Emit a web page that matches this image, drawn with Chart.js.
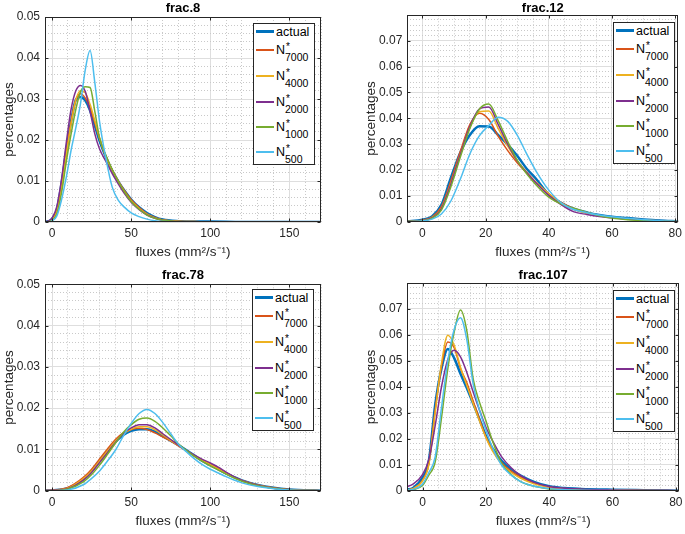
<!DOCTYPE html>
<html><head><meta charset="utf-8">
<script src="https://cdn.jsdelivr.net/npm/chart.js@4/dist/chart.umd.min.js"></script>
<style>
html,body{margin:0;padding:0;background:#fff;}
#wrap{position:relative;width:685px;height:534px;overflow:hidden;background:#fff;}
canvas.pc{position:absolute;}
.leg{position:absolute;box-sizing:border-box;width:62px;height:142px;border:1px solid #262626;background:#fff;font-family:"Liberation Sans",Arial,Helvetica,sans-serif;font-size:12.5px;color:#000;}
.ent{position:absolute;left:0;right:0;height:14px;line-height:14px;white-space:nowrap;}
.sw{position:absolute;left:2px;width:18px;}
.tx{position:absolute;left:22px;top:0;}
.ss{position:relative;display:inline-block;}
.sp{position:absolute;left:1px;top:-1px;font-size:10px;line-height:10px;}
.sb{position:relative;top:7px;font-size:10.5px;}
</style></head><body><div id="wrap"></div>
<script>
// ---------------- data ----------------
const seriesNames = ['actual','N*7000','N*4000','N*2000','N*1000','N*500'];
const legendBase = ['actual','N','N','N','N','N'];
const legendSup = ['','*','*','*','*','*'];
const legendSub = ['','7000','4000','2000','1000','500'];
const panelTitles = ['frac.8','frac.12','frac.78','frac.107'];
const xAxisTitle = 'fluxes (mm²/s⁻¹)';
const yAxisTitle = 'percentages';

const xTicksWide = [0,50,100,150];
const xTicksNarrow = [0,20,40,60,80];
const yTicksLow = [0,0.01,0.02,0.03,0.04,0.05];
const yTicksHigh = [0,0.01,0.02,0.03,0.04,0.05,0.06,0.07];

// frac.8
const frac8X = [-5,-2,0,3,6,9,12,15,18,21,24,27,30,34,38,42,46,50,55,60,65,70,80,90,100,120,170];
const frac8Actual = [0,0.0002,0.0008,0.003,0.0095,0.0175,0.0245,0.0298,0.0305,0.0296,0.0272,0.0235,0.0198,0.0158,0.0125,0.0098,0.0075,0.0055,0.0036,0.0022,0.0012,0.0006,0.0002,0.0001,0.0001,0,0];
const frac8N7000 = [0,0.0001,0.0006,0.0028,0.009,0.017,0.0245,0.0298,0.0313,0.0302,0.0278,0.0242,0.0203,0.016,0.0127,0.0099,0.0075,0.0054,0.0035,0.002,0.0011,0.0005,0.0002,0.0001,0,0,0];
const frac8N4000 = [0,0.0001,0.0005,0.0025,0.0085,0.0165,0.024,0.0298,0.032,0.0315,0.0287,0.0247,0.0205,0.016,0.0126,0.0097,0.0072,0.0051,0.0033,0.0019,0.001,0.0005,0.0002,0.0001,0,0,0];
const frac8N2000 = [0,0.0003,0.001,0.0038,0.0105,0.0195,0.0275,0.032,0.0333,0.0318,0.027,0.0215,0.0178,0.0148,0.0118,0.0092,0.0068,0.0048,0.003,0.0017,0.0009,0.0004,0.0001,0,0,0,0];
const frac8N1000 = [0,0.0001,0.0004,0.002,0.0072,0.0148,0.0215,0.0275,0.0318,0.033,0.0328,0.027,0.0205,0.0163,0.0128,0.0098,0.0072,0.005,0.0031,0.0017,0.0009,0.0004,0.0001,0,0,0,0];
const frac8N500 = [0,0,0.0003,0.0015,0.0055,0.011,0.0175,0.023,0.029,0.0372,0.0418,0.034,0.0245,0.0155,0.0085,0.0052,0.0035,0.0022,0.0013,0.0007,0.0003,0.0001,0,0,0,0,0];

// frac.12
const frac12X = [-5,0,3,6,9,12,15,18,21,24,27,30,33,36,40,44,48,52,56,60,65,70,75,81];
const frac12Actual = [0.0001,0.0008,0.002,0.0065,0.017,0.0268,0.0335,0.0369,0.0368,0.0335,0.0298,0.0255,0.0205,0.0165,0.0105,0.0072,0.0049,0.0036,0.0026,0.0019,0.0014,0.0009,0.0005,0.0002];
const frac12N7000 = [0.0001,0.0006,0.0018,0.0058,0.0158,0.0272,0.0375,0.0419,0.0395,0.033,0.0275,0.0228,0.0188,0.015,0.0108,0.0074,0.005,0.0035,0.0024,0.0017,0.0011,0.0007,0.0004,0.0001];
const frac12N4000 = [0.0001,0.0005,0.0016,0.0052,0.0148,0.026,0.0365,0.0425,0.0428,0.036,0.0292,0.0235,0.0192,0.0152,0.0108,0.0072,0.0048,0.0033,0.0023,0.0016,0.001,0.0006,0.0003,0.0001];
const frac12N2000 = [0.0001,0.0005,0.0015,0.005,0.0145,0.026,0.0368,0.0435,0.0443,0.0375,0.03,0.0235,0.019,0.015,0.0102,0.0065,0.0038,0.0028,0.002,0.0015,0.001,0.0006,0.0003,0.0001];
const frac12N1000 = [0.0001,0.0004,0.0013,0.0045,0.0135,0.025,0.036,0.0435,0.0455,0.039,0.031,0.0238,0.0185,0.0142,0.0095,0.0068,0.0052,0.0037,0.0023,0.0014,0.0008,0.0005,0.0003,0.0001];
const frac12N500 = [0,0.0003,0.001,0.003,0.008,0.0165,0.0262,0.0332,0.0372,0.0404,0.0388,0.0335,0.0262,0.0195,0.0122,0.0072,0.0047,0.0035,0.0026,0.0019,0.0013,0.0008,0.0004,0.0002];

// frac.78
const frac78X = [-5,0,10,20,25,30,35,40,45,50,55,60,65,70,75,80,85,90,95,100,105,110,115,120,130,140,150,170];
const frac78Actual = [0,0.0001,0.0006,0.0028,0.0048,0.0072,0.0096,0.0118,0.0135,0.0145,0.0149,0.0149,0.0143,0.0132,0.0121,0.011,0.0098,0.0085,0.0072,0.0062,0.0052,0.0042,0.0033,0.0025,0.0014,0.0007,0.0003,0];
const frac78N7000 = [0,0.0001,0.0008,0.0033,0.0052,0.0077,0.0101,0.0124,0.014,0.0148,0.0151,0.0148,0.014,0.013,0.012,0.0108,0.0096,0.0084,0.0073,0.0064,0.0054,0.0043,0.0033,0.0025,0.0014,0.0007,0.0003,0];
const frac78N4000 = [0,0.0001,0.0006,0.003,0.0048,0.0072,0.0096,0.012,0.0138,0.0149,0.0155,0.0155,0.0148,0.0135,0.0122,0.0109,0.0097,0.0085,0.0074,0.0064,0.0053,0.0042,0.0032,0.0024,0.0013,0.0006,0.0002,0];
const frac78N2000 = [0,0.0001,0.0005,0.0026,0.0044,0.0068,0.0092,0.0117,0.0138,0.0152,0.016,0.016,0.0152,0.0138,0.0124,0.011,0.0097,0.0086,0.0076,0.0067,0.0057,0.0045,0.0034,0.0025,0.0013,0.0006,0.0002,0];
const frac78N1000 = [0,0,0.0004,0.0022,0.0039,0.0062,0.0088,0.0115,0.0141,0.016,0.0173,0.0176,0.0168,0.0152,0.0133,0.0113,0.0097,0.0083,0.0071,0.006,0.005,0.004,0.0031,0.0023,0.0012,0.0006,0.0002,0];
const frac78N500 = [0,0,0.0002,0.0015,0.003,0.0048,0.0072,0.0098,0.0132,0.0163,0.0187,0.0197,0.0187,0.0165,0.0138,0.0112,0.0094,0.0077,0.0063,0.0052,0.0043,0.0034,0.0026,0.0019,0.001,0.0005,0.0002,0];

// frac.107
const frac107X = [-5,-3,0,2,4,6,8,10,12,14,16,18,20,22,25,28,31,35,40,45,50,60,70,81];
const frac107Actual = [0.0004,0.001,0.005,0.0115,0.033,0.047,0.0545,0.051,0.045,0.0395,0.0335,0.0275,0.0212,0.0165,0.0115,0.0082,0.0058,0.0035,0.0017,0.001,0.0007,0.0004,0.0002,0];
const frac107N7000 = [0.0003,0.0008,0.004,0.0105,0.031,0.0478,0.0572,0.055,0.047,0.0415,0.0345,0.0275,0.0208,0.016,0.0108,0.0075,0.0052,0.003,0.0014,0.0008,0.0005,0.0003,0.0001,0];
const frac107N4000 = [0.0003,0.0008,0.0038,0.01,0.03,0.049,0.0598,0.056,0.0475,0.0405,0.0335,0.0268,0.0205,0.0155,0.0102,0.007,0.0048,0.0028,0.0013,0.0007,0.0004,0.0002,0.0001,0];
const frac107N2000 = [0.0015,0.0025,0.0062,0.012,0.025,0.04,0.0505,0.054,0.0515,0.0455,0.038,0.031,0.0245,0.0195,0.013,0.0088,0.0058,0.0033,0.0016,0.0009,0.0006,0.0003,0.0001,0];
const frac107N1000 = [0.0001,0.0004,0.002,0.006,0.011,0.028,0.047,0.061,0.0695,0.0615,0.043,0.034,0.027,0.0195,0.0105,0.0062,0.0035,0.0018,0.0007,0.0003,0.0001,0,0,0];
const frac107N500 = [0.0002,0.0005,0.0025,0.007,0.013,0.032,0.05,0.062,0.0665,0.058,0.041,0.031,0.0235,0.0168,0.0098,0.006,0.0035,0.0018,0.0008,0.0004,0.0002,0.0001,0,0];

// ---------------- style / layout ----------------
const FONT = '"Liberation Sans", Arial, Helvetica, sans-serif';
const colors = ['#0072BD','#D95319','#EDB120','#7E2F8E','#77AC30','#4DBEEE'];
const MAJOR_GRID = '#dedede', MINOR_GRID = '#c9c9c9', AXIS_COLOR = '#262626';
const LEG_W = 62, LEG_ROWS = [7.5, 26, 52, 77.5, 102.5, 127.5];

const panels = [
  {title:panelTitles[0], xs:frac8X, series:[frac8Actual,frac8N7000,frac8N4000,frac8N2000,frac8N1000,frac8N500],
   xMajor:xTicksWide, yMajor:yTicksLow, xMin:-4.5, xMax:170, yMax:0.05, xMinor:10, yMinor:0.002,
   box:{left:0,top:0,w:342,h:267}, area:{left:45,right:321,top:17,bottom:222}, yTitleX:9.5, leg:{r:6,t:6}},
  {title:panelTitles[1], xs:frac12X, series:[frac12Actual,frac12N7000,frac12N4000,frac12N2000,frac12N1000,frac12N500],
   xMajor:xTicksNarrow, yMajor:yTicksHigh, xMin:-4.8, xMax:81, yMax:0.0798, xMinor:5, yMinor:0.002,
   box:{left:342,top:0,w:343,h:267}, area:{left:65.3,right:336.3,top:15.3,bottom:221.7}, yTitleX:29.3, leg:{r:3,t:7}},
  {title:panelTitles[2], xs:frac78X, series:[frac78Actual,frac78N7000,frac78N4000,frac78N2000,frac78N1000,frac78N500],
   xMajor:xTicksWide, yMajor:yTicksLow, xMin:-4.5, xMax:170, yMax:0.05, xMinor:10, yMinor:0.002,
   box:{left:0,top:267,w:342,h:267}, area:{left:45,right:321,top:17.3,bottom:223.7}, yTitleX:9.5, leg:{r:7,t:5}},
  {title:panelTitles[3], xs:frac107X, series:[frac107Actual,frac107N7000,frac107N4000,frac107N2000,frac107N1000,frac107N500],
   xMajor:xTicksNarrow, yMajor:yTicksHigh, xMin:-4.8, xMax:81, yMax:0.0798, xMinor:5, yMinor:0.002,
   box:{left:342,top:267,w:343,h:267}, area:{left:65.3,right:337,top:16.3,bottom:223.7}, yTitleX:29.3, leg:{r:4,t:7}}
];

function makeTicks(min, max, step){
  const out = [];
  const k0 = Math.ceil(min/step - 1e-9), k1 = Math.floor(max/step + 1e-9);
  for (let k=k0; k<=k1; k++) out.push(Math.round(k*step*1e6)/1e6);
  return out;
}
function isMajor(v, majors){ return majors.some(m => Math.abs(m - v) < 1e-9); }
function fmt(v){ return v === 0 ? '0' : String(+v.toFixed(4)); }

function makeBoxPlugin(p){
  return {
    id: 'boxPlugin',
    afterDatasetsDraw(chart){
      const {ctx, chartArea:a} = chart;
      const xs = chart.scales.x, ys = chart.scales.y;
      ctx.save();
      ctx.strokeStyle = AXIS_COLOR; ctx.lineWidth = 1;
      const L = Math.round(a.left)+0.5, R = Math.round(a.right)-0.5, T = Math.round(a.top)+0.5, B = Math.round(a.bottom)-0.5;
      ctx.strokeRect(L, T, R-L, B-T);
      ctx.beginPath();
      const TL = 3;
      p.xMajor.forEach(v => {
        const px = Math.round(xs.getPixelForValue(v)) + 0.5;
        ctx.moveTo(px, B); ctx.lineTo(px, B-TL);
        ctx.moveTo(px, T); ctx.lineTo(px, T+TL);
      });
      p.yMajor.forEach(v => {
        const py = Math.round(ys.getPixelForValue(v)) + 0.5;
        ctx.moveTo(L, py); ctx.lineTo(L+TL, py);
        ctx.moveTo(R, py); ctx.lineTo(R-TL, py);
      });
      ctx.stroke();
      ctx.restore();
    }
  };
}

const wrap = document.getElementById('wrap');
panels.forEach(p => {
  const cv = document.createElement('canvas');
  cv.className = 'pc';
  cv.width = p.box.w; cv.height = p.box.h;
  cv.style.left = p.box.left + 'px'; cv.style.top = p.box.top + 'px';
  cv.style.width = p.box.w + 'px'; cv.style.height = p.box.h + 'px';
  wrap.appendChild(cv);
  const xH = p.box.h - p.area.bottom;
  const chart = new Chart(cv, {
    type: 'line',
    data: { datasets: p.series.map((ys, i) => ({
      label: seriesNames[i],
      data: p.xs.map((x, j) => ({x: x, y: ys[j]})),
      borderColor: colors[i], backgroundColor: colors[i],
      borderWidth: i === 0 ? 2.5 : 1.5,
      pointRadius: 0, pointHoverRadius: 0, fill: false,
      tension: 0.35, cubicInterpolationMode: 'monotone',
      order: 6 - i
    }))},
    options: {
      responsive: false, animation: false, devicePixelRatio: 1,
      events: [],
      layout: { padding: { left: 0, right: p.box.w - p.area.right, top: 0, bottom: 0 } },
      plugins: {
        legend: { display: false },
        tooltip: { enabled: false },
        title: { display: true, text: p.title, fullSize: false, color: '#000',
          font: { family: FONT, size: 13, weight: 'bold', lineHeight: 1 },
          padding: { top: 1.8, bottom: p.area.top - 13 - 1.8 } }
      },
      scales: {
        x: {
          type: 'linear', min: p.xMin, max: p.xMax,
          afterBuildTicks: s => { s.ticks = makeTicks(p.xMin, p.xMax, p.xMinor).map(v => ({value: v})); },
          afterFit: s => { s.height = xH; s.paddingLeft = 0; s.paddingRight = 0; },
          ticks: { autoSkip: false, maxRotation: 0, minRotation: 0, padding: 4.5, color: AXIS_COLOR,
            font: { family: FONT, size: 12 }, callback: v => isMajor(v, p.xMajor) ? fmt(v) : '' },
          grid: { drawTicks: false, lineWidth: 1,
            color: c => (c.tick && isMajor(c.tick.value, p.xMajor)) ? MAJOR_GRID : MINOR_GRID },
          border: { display: false, dash: c => (c.tick && !isMajor(c.tick.value, p.xMajor)) ? [1, 2] : [] },
          title: { display: true, text: xAxisTitle, color: AXIS_COLOR, font: { family: FONT, size: 13.5 },
            padding: { top: 0, bottom: xH - 30.5 - 8.1 } }
        },
        y: {
          type: 'linear', min: 0, max: p.yMax,
          afterBuildTicks: s => { s.ticks = makeTicks(0, p.yMax, p.yMinor).map(v => ({value: v})); },
          afterFit: s => { s.width = p.area.left; s.paddingTop = 0; s.paddingBottom = 0; },
          ticks: { autoSkip: false, padding: 5, color: AXIS_COLOR,
            font: { family: FONT, size: 12 }, callback: v => isMajor(v, p.yMajor) ? fmt(v) : '' },
          grid: { drawTicks: false, lineWidth: 1,
            color: c => (c.tick && isMajor(c.tick.value, p.yMajor)) ? MAJOR_GRID : MINOR_GRID },
          border: { display: false, dash: c => (c.tick && !isMajor(c.tick.value, p.yMajor)) ? [1, 2] : [] },
          title: { display: true, text: yAxisTitle, color: AXIS_COLOR, font: { family: FONT, size: 13.5 },
            padding: { top: p.yTitleX - 8.1, bottom: 0 } }
        }
      }
    },
    plugins: [makeBoxPlugin(p)]
  });

  // legend (HTML so that the superscript/subscript labels stay real text)
  const a = chart.chartArea;
  const leg = document.createElement('div');
  leg.className = 'leg';
  leg.style.left = Math.round(p.box.left + a.right - p.leg.r - LEG_W) + 'px';
  leg.style.top = Math.round(p.box.top + a.top + p.leg.t) + 'px';
  seriesNames.forEach((name, i) => {
    const ent = document.createElement('div');
    ent.className = 'ent';
    ent.style.top = Math.round(LEG_ROWS[i] - 7) + 'px';
    const sw = document.createElement('span');
    sw.className = 'sw';
    const h = i === 0 ? 3 : 2;
    sw.style.height = h + 'px';
    sw.style.top = (i === 0 ? 5 : 6) + 'px';
    sw.style.background = colors[i];
    const tx = document.createElement('span');
    tx.className = 'tx';
    tx.appendChild(document.createTextNode(legendBase[i]));
    if (legendSub[i]) {
      const ss = document.createElement('span'); ss.className = 'ss';
      const sp = document.createElement('span'); sp.className = 'sp'; sp.textContent = legendSup[i];
      const sb = document.createElement('span'); sb.className = 'sb'; sb.textContent = legendSub[i];
      ss.appendChild(sp); ss.appendChild(sb); tx.appendChild(ss);
    }
    ent.appendChild(sw); ent.appendChild(tx);
    leg.appendChild(ent);
  });
  wrap.appendChild(leg);
});
</script></body></html>
